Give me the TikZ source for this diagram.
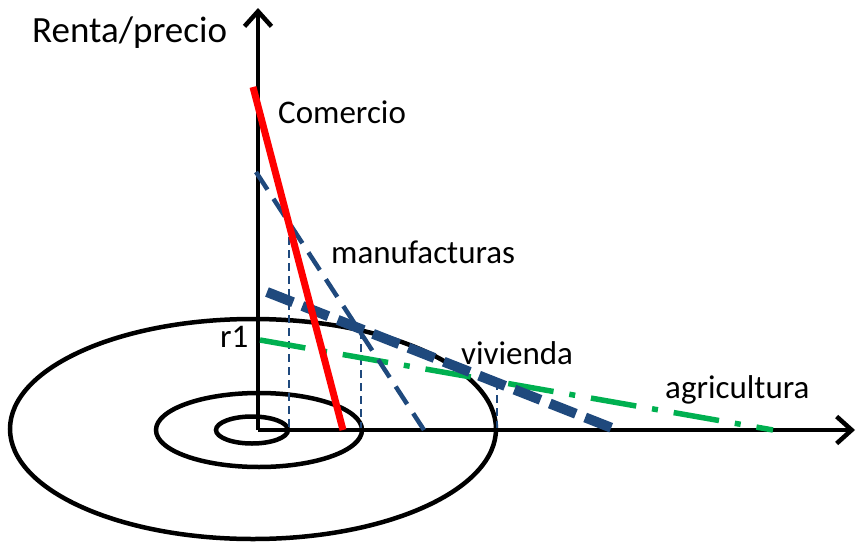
\documentclass[tikz,border=0pt]{standalone}
\usepackage{fontspec}
\setmainfont{Carlito}
\usetikzlibrary{arrows.meta}
\definecolor{navy}{RGB}{31,73,125}
\definecolor{agreen}{RGB}{0,176,80}
\definecolor{ared}{RGB}{255,0,0}
\tikzset{
  axis/.style={line width=4.5pt, -{Straight Barb[length=15pt,width=27pt,line width=4.5pt]}},
  ring/.style={line width=4.5pt},
  comline/.style={ared, line width=7pt},
  manline/.style={navy, line width=4.5pt, dash pattern=on 21pt off 11pt},
  vivline/.style={navy, line width=10pt, dash pattern=on 28pt off 10pt},
  agrline/.style={agreen, line width=5.5pt, dash pattern=on 46pt off 16pt on 6pt off 16pt},
  guide/.style={navy, line width=1.4pt, dash pattern=on 8pt off 5pt},
  lbl/.style={anchor=base west, inner sep=0pt, font=\fontsize{33}{38}\selectfont},
}
\begin{document}
\begin{tikzpicture}[x=1pt,y=-1pt]
\useasboundingbox (0,0) rectangle (857,541);
% coordinates
\coordinate (O) at (258,430);
\coordinate (ytop) at (258,8);
\coordinate (xend) at (855,430);
\coordinate (c1) at (253,87);
\coordinate (c2) at (343,430);
\coordinate (m1) at (256,172);
\coordinate (m2) at (424,430);
\coordinate (v1) at (267,292);
\coordinate (v2) at (617,430);
\coordinate (a1) at (260,340);
\coordinate (a2) at (773,430);
\coordinate (g1) at (289,224);
\coordinate (g1b) at (289,430);
\coordinate (g2) at (361,331);
\coordinate (g2b) at (361,430);
\coordinate (g3) at (497,382);
\coordinate (g3b) at (497,430);
% rings
\draw[ring] (253,429) ellipse [x radius=243, y radius=110];
\draw[ring] (259,430) ellipse [x radius=103, y radius=37];
\draw[ring] (252,430) ellipse [x radius=36, y radius=13.5];
% guides
\draw[guide] (g1) -- (g1b);
\draw[guide] (g2) -- (g2b);
\draw[guide] (g3) -- (g3b);
% axes
\draw[axis] (O) -- (ytop);
\draw[axis] (O) -- (xend);
% rent lines
\draw[agrline] (a1) -- (a2);
\draw[manline] (m1) -- (m2);
\draw[vivline] (v1) -- (v2);
\draw[comline] (c1) -- (c2);
% labels
\node[lbl, font=\fontsize{37}{42}\selectfont] (lrenta) at (32,42) {Renta/precio};
\node[lbl] (lcom) at (278,123) {Comercio};
\node[lbl] (lman) at (331,263) {manufacturas};
\node[lbl] (lviv) at (461,364) {vivienda};
\node[lbl] (lagr) at (665,398) {agricultura};
\node[lbl] (lr1) at (220,347) {r1};
\end{tikzpicture}
\end{document}
